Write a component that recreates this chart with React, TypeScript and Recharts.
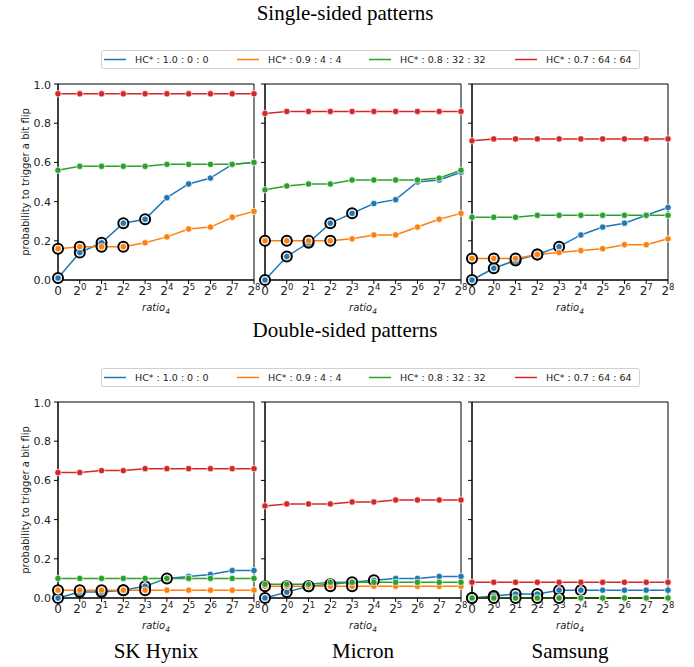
import React from 'react';
import { LineChart, Line, XAxis, YAxis, ReferenceArea, Label } from 'recharts';

// x positions are ratio indices: 0, 2^0 ... 2^8
const ratioIndex = [0, 1, 2, 3, 4, 5, 6, 7, 8, 9];
const ratioExponents = [null, 0, 1, 2, 3, 4, 5, 6, 7, 8];
const probTicks = [0, 0.2, 0.4, 0.6, 0.8, 1.0];

const seriesNames = ['HC* : 1.0 : 0 : 0', 'HC* : 0.9 : 4 : 4', 'HC* : 0.8 : 32 : 32', 'HC* : 0.7 : 64 : 64'];
const seriesColors = ['#1f77b4', '#ff7f0e', '#2ca02c', '#d62728'];
const vendors = ['SK Hynix', 'Micron', 'Samsung'];

// single-sided
const hynixSingleBlue = [0.01, 0.14, 0.19, 0.29, 0.31, 0.42, 0.49, 0.52, 0.59, 0.6];
const hynixSingleOrange = [0.16, 0.17, 0.17, 0.17, 0.19, 0.22, 0.26, 0.27, 0.32, 0.35];
const hynixSingleGreen = [0.56, 0.58, 0.58, 0.58, 0.58, 0.59, 0.59, 0.59, 0.59, 0.6];
const hynixSingleRed = [0.95, 0.95, 0.95, 0.95, 0.95, 0.95, 0.95, 0.95, 0.95, 0.95];

const micronSingleBlue = [0.0, 0.12, 0.19, 0.29, 0.34, 0.39, 0.41, 0.5, 0.51, 0.55];
const micronSingleOrange = [0.2, 0.2, 0.2, 0.2, 0.21, 0.23, 0.23, 0.27, 0.31, 0.34];
const micronSingleGreen = [0.46, 0.48, 0.49, 0.49, 0.51, 0.51, 0.51, 0.51, 0.52, 0.56];
const micronSingleRed = [0.85, 0.86, 0.86, 0.86, 0.86, 0.86, 0.86, 0.86, 0.86, 0.86];

const samsungSingleBlue = [0.0, 0.06, 0.1, 0.13, 0.17, 0.23, 0.27, 0.29, 0.33, 0.37];
const samsungSingleOrange = [0.11, 0.11, 0.11, 0.13, 0.14, 0.15, 0.16, 0.18, 0.18, 0.21];
const samsungSingleGreen = [0.32, 0.32, 0.32, 0.33, 0.33, 0.33, 0.33, 0.33, 0.33, 0.33];
const samsungSingleRed = [0.71, 0.72, 0.72, 0.72, 0.72, 0.72, 0.72, 0.72, 0.72, 0.72];

// double-sided
const hynixDoubleBlue = [0.0, 0.03, 0.03, 0.04, 0.06, 0.1, 0.11, 0.12, 0.14, 0.14];
const hynixDoubleOrange = [0.04, 0.04, 0.04, 0.04, 0.04, 0.04, 0.04, 0.04, 0.04, 0.04];
const hynixDoubleGreen = [0.1, 0.1, 0.1, 0.1, 0.1, 0.1, 0.1, 0.1, 0.1, 0.1];
const hynixDoubleRed = [0.64, 0.64, 0.65, 0.65, 0.66, 0.66, 0.66, 0.66, 0.66, 0.66];

const micronDoubleBlue = [0.0, 0.03, 0.06, 0.07, 0.08, 0.09, 0.1, 0.1, 0.11, 0.11];
const micronDoubleOrange = [0.06, 0.06, 0.06, 0.06, 0.06, 0.06, 0.06, 0.06, 0.06, 0.06];
const micronDoubleGreen = [0.07, 0.07, 0.07, 0.08, 0.08, 0.08, 0.08, 0.08, 0.08, 0.08];
const micronDoubleRed = [0.47, 0.48, 0.48, 0.48, 0.49, 0.49, 0.5, 0.5, 0.5, 0.5];

const samsungDoubleBlue = [0.0, 0.01, 0.02, 0.02, 0.04, 0.04, 0.04, 0.04, 0.04, 0.04];
const samsungDoubleOrange = [0.0, 0.0, 0.0, 0.0, 0.0, 0.0, 0.0, 0.0, 0.0, 0.0];
const samsungDoubleGreen = [0.0, 0.0, 0.0, 0.0, 0.0, 0.0, 0.0, 0.0, 0.0, 0.0];
const samsungDoubleRed = [0.08, 0.08, 0.08, 0.08, 0.08, 0.08, 0.08, 0.08, 0.08, 0.08];

// points circled in black (indices), per blue / orange series
const singleMarkedBlue = [0, 1, 2, 3, 4];
const singleMarkedOrange = [0, 1, 2, 3];
const doubleMarkedBlue = [0, 1, 2, 3, 4, 5];
const doubleMarkedOrange = [0, 1, 2, 3, 4];

const PLOT_W = 196;
const PLOT_H = 196;
const Y_W = 58;
const panelLefts = [58, 265, 472];

const rows = [
  {
    title: 'Single-sided patterns',
    top: 84,
    legendTop: 50,
    titleTop: 0,
    marked: [singleMarkedBlue, singleMarkedOrange, [], []],
    panels: [
      [hynixSingleBlue, hynixSingleOrange, hynixSingleGreen, hynixSingleRed],
      [micronSingleBlue, micronSingleOrange, micronSingleGreen, micronSingleRed],
      [samsungSingleBlue, samsungSingleOrange, samsungSingleGreen, samsungSingleRed],
    ],
  },
  {
    title: 'Double-sided patterns',
    top: 402,
    legendTop: 368,
    titleTop: 317,
    marked: [doubleMarkedBlue, doubleMarkedOrange, [], []],
    panels: [
      [hynixDoubleBlue, hynixDoubleOrange, hynixDoubleGreen, hynixDoubleRed],
      [micronDoubleBlue, micronDoubleOrange, micronDoubleGreen, micronDoubleRed],
      [samsungDoubleBlue, samsungDoubleOrange, samsungDoubleGreen, samsungDoubleRed],
    ],
  },
];

const textColor = '#222';

const RatioTick = (props: any) => {
  const { x, y, payload } = props;
  const exp = ratioExponents[payload.value];
  return (
    <text x={x} y={y} dy="0.71em" textAnchor="middle" fontSize={12} fill={textColor} fontFamily="DejaVu Sans">
      {exp === null ? (
        '0'
      ) : (
        <>
          <tspan>2</tspan>
          <tspan dy={-5} fontSize={8.5}>{exp}</tspan>
        </>
      )}
    </text>
  );
};

const makeRing = (marked: number[]) => (props: any) => {
  const { cx, cy, index } = props;
  if (cx == null || cy == null || !marked.includes(index)) return <g key={`r${index}`} />;
  return <circle key={`r${index}`} cx={cx} cy={cy} r={5} fill="#fff" stroke="#000" strokeWidth={2} />;
};

const makeDot = (color: string) => (props: any) => {
  const { cx, cy, index } = props;
  if (cx == null || cy == null) return <g key={`e${index}`} />;
  return <circle key={`d${index}`} cx={cx} cy={cy} r={3.2} fill={color} stroke="#fff" strokeWidth={0.7} />;
};

const Panel = ({ series, marked, showY, left, top }: any) => {
  const data = ratioIndex.map((r, i) => ({
    r,
    s0: series[0][i],
    s1: series[1][i],
    s2: series[2][i],
    s3: series[3][i],
  }));
  return (
    <div style={{ position: 'absolute', left: left - Y_W, top: top - 5 }}>
      <LineChart
        width={Y_W + PLOT_W + 6}
        height={5 + PLOT_H + 40}
        data={data}
        margin={{ top: 5, right: 6, left: 0, bottom: 0 }}
      >
        <XAxis
          dataKey="r"
          type="number"
          domain={[0, 9]}
          ticks={ratioIndex}
          interval={0}
          tick={<RatioTick />}
          tickSize={4}
          tickMargin={2}
          stroke="#000"
          height={40}
        >
          <Label
            content={({ viewBox }: any) => (
              <text
                x={viewBox.x + viewBox.width / 2}
                y={viewBox.y + 31}
                textAnchor="middle"
                fontSize={10}
                fontStyle="italic"
                fill={textColor}
                fontFamily="DejaVu Sans"
              >
                ratio
                <tspan dy={3} fontSize={7.5}>4</tspan>
              </text>
            )}
          />
        </XAxis>
        <YAxis
          type="number"
          domain={[0, 1]}
          ticks={probTicks}
          width={Y_W}
          tickSize={4}
          tickMargin={3}
          stroke="#000"
          tickFormatter={(v: number) => (showY ? v.toFixed(1) : '')}
          tick={{ fontSize: 11, fill: textColor, fontFamily: 'DejaVu Sans' }}
        >
          {showY && (
            <Label
              content={({ viewBox }: any) => {
                const cx = viewBox.x + 25;
                const cy = viewBox.y + viewBox.height / 2;
                return (
                  <text
                    x={cx}
                    y={cy}
                    transform={`rotate(-90, ${cx}, ${cy})`}
                    textAnchor="middle"
                    dominantBaseline="central"
                    fontSize={10}
                    fill={textColor}
                    fontFamily="DejaVu Sans"
                  >
                    probability to trigger a bit flip
                  </text>
                );
              }}
            />
          )}
        </YAxis>
        {[0, 1, 2, 3].map((k) => (
          <Line
            key={`l${k}`}
            dataKey={`s${k}`}
            stroke={seriesColors[k]}
            strokeWidth={1.5}
            dot={false}
            activeDot={false}
            isAnimationActive={false}
          />
        ))}
        {[0, 1].map((k) => (
          <Line
            key={`r${k}`}
            dataKey={`s${k}`}
            stroke="none"
            dot={makeRing(marked[k])}
            activeDot={false}
            isAnimationActive={false}
          />
        ))}
        {[0, 1, 2, 3].map((k) => (
          <Line
            key={`d${k}`}
            dataKey={`s${k}`}
            stroke="none"
            dot={makeDot(seriesColors[k])}
            activeDot={false}
            isAnimationActive={false}
          />
        ))}
        <ReferenceArea x1={0} x2={9} y1={0} y2={1} fill="none" stroke="#000" strokeWidth={1} fillOpacity={0} />
      </LineChart>
    </div>
  );
};

const legendLineX = [3, 136, 268, 414];
const legendTextX = [34, 167, 299, 445];

const LegendBox = ({ top }: { top: number }) => (
  <svg style={{ position: 'absolute', left: 101, top }} width={540} height={19}>
    <rect x={0.5} y={0.5} width={538} height={18} rx={2} fill="#fff" stroke="#d0d0d0" />
    {seriesNames.map((name, k) => (
      <g key={name}>
        <line x1={legendLineX[k]} x2={legendLineX[k] + 22} y1={9.5} y2={9.5} stroke={seriesColors[k]} strokeWidth={1.5} />
        <text x={legendTextX[k]} y={9.5} dominantBaseline="central" fontSize={9.5} fill={textColor} fontFamily="DejaVu Sans">
          {name}
        </text>
      </g>
    ))}
  </svg>
);

const serif = '"Liberation Serif", "Times New Roman", serif';

export default function App() {
  return (
    <div style={{ position: 'absolute', left: 0, top: 0, width: 694, height: 667, background: '#fff' }}>
      {rows.map((row) => (
        <React.Fragment key={row.title}>
          <div
            style={{
              position: 'absolute',
              left: 0,
              width: 694,
              top: row.titleTop,
              textAlign: 'center',
              fontFamily: serif,
              fontSize: 21,
              lineHeight: '26px',
            }}
          >
            <span style={{ marginLeft: -4 }}>{row.title}</span>
          </div>
          <LegendBox top={row.legendTop} />
          {row.panels.map((series, p) => (
            <Panel
              key={p}
              series={series}
              marked={row.marked}
              showY={p === 0}
              left={panelLefts[p]}
              top={row.top}
            />
          ))}
        </React.Fragment>
      ))}
      {vendors.map((v, p) => (
        <div
          key={v}
          style={{
            position: 'absolute',
            left: panelLefts[p],
            width: PLOT_W,
            top: 638,
            textAlign: 'center',
            fontFamily: serif,
            fontSize: 21,
            lineHeight: '26px',
          }}
        >
          {v}
        </div>
      ))}
    </div>
  );
}
